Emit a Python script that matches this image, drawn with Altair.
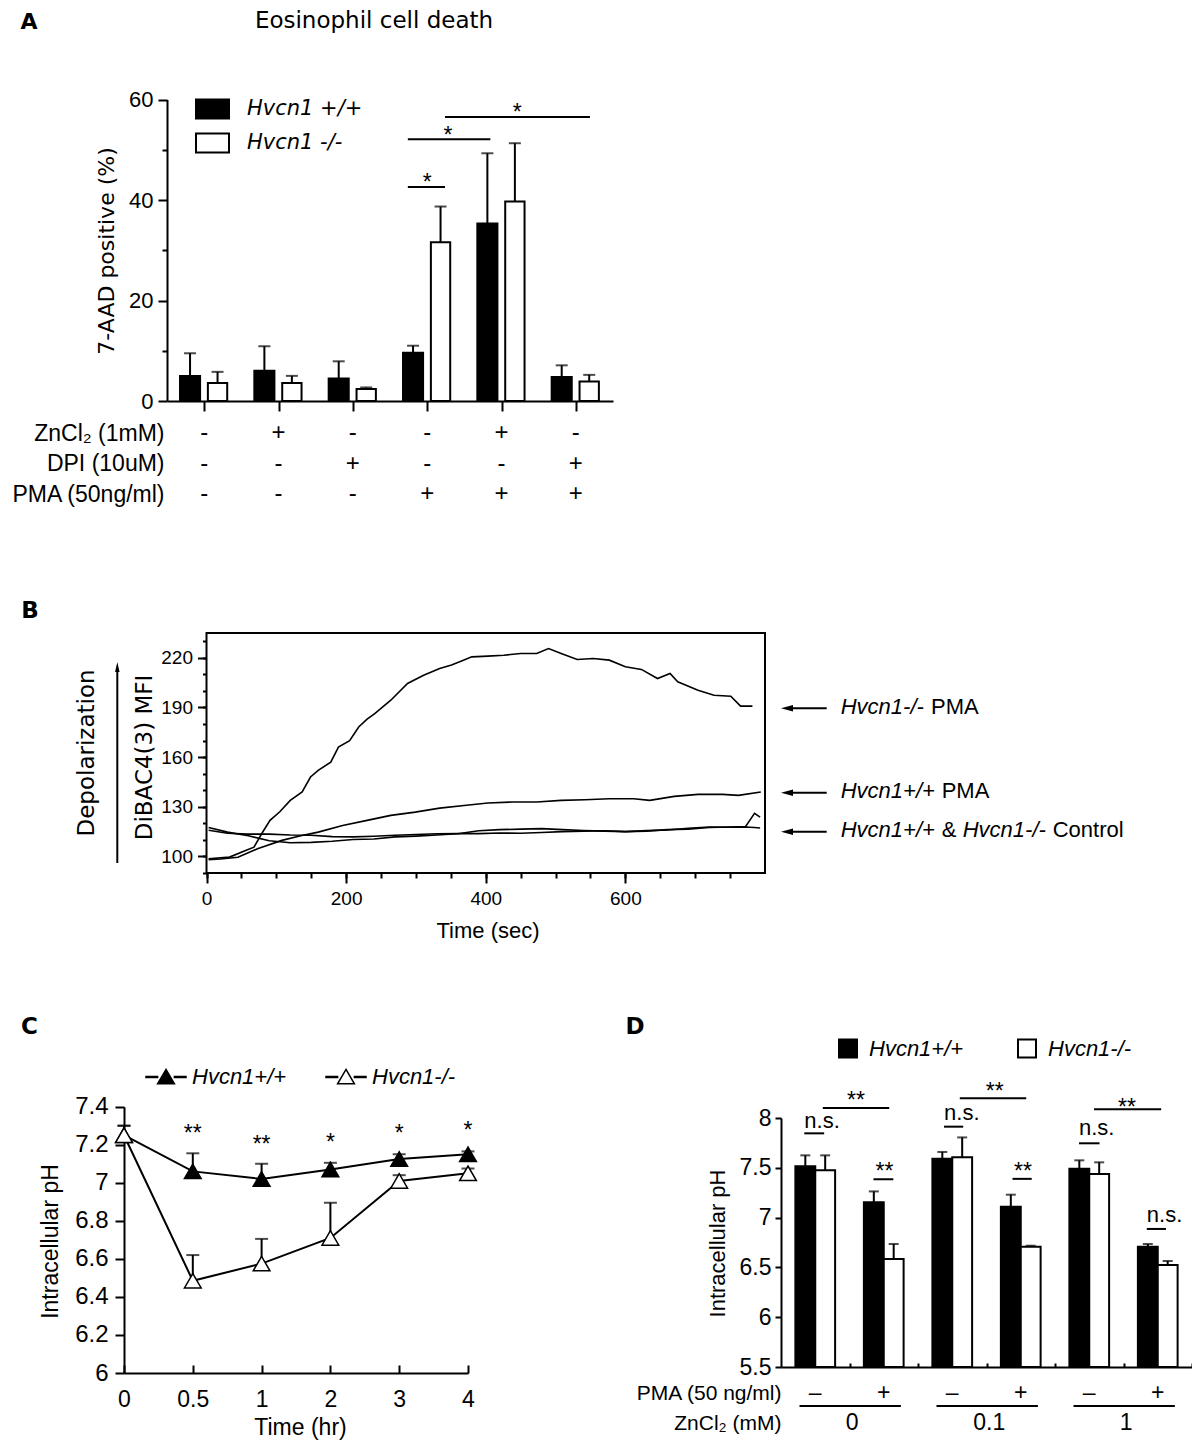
import altair as alt
import pandas as pd

# ====================== DATA ======================
# ---- Panel A : Eosinophil cell death ----
A_idx = [0, 1, 2, 3, 4, 5]
A_rows = ["ZnCl₂ (1mM)", "DPI (10uM)", "PMA (50ng/ml)"]
A_zncl2 = ["-", "+", "-", "-", "+", "-"]
A_dpi = ["-", "-", "+", "-", "-", "+"]
A_pma = ["-", "-", "-", "+", "+", "+"]
A_geno = ["Hvcn1 +/+", "Hvcn1 -/-"]
A_wt_mean = [5.0, 6.0, 4.5, 9.6, 35.3, 4.8]
A_wt_sem = [4.5, 4.9, 3.4, 1.4, 14.0, 2.3]
A_ko_mean = [3.6, 3.6, 2.4, 31.6, 39.7, 3.9]
A_ko_sem = [2.2, 1.4, 0.3, 7.1, 11.6, 1.3]
A_sig_from = [3.24, 3.24, 3.74]
A_sig_to = [3.74, 4.35, 5.69]
A_sig_y = [42.6, 52.1, 56.5]
A_star_x = [3.50, 3.78, 4.71]
A_star_y = [44.6, 53.9, 58.5]
A_yticks = [0, 20, 40, 60]
A_yminor = [10, 30, 50]

# ---- Panel B : DiBAC4(3) traces ----
B_ko_pma_t = [3, 33, 56, 68, 79, 91, 105, 120, 137, 149, 160, 178, 189, 205, 218, 230, 241, 264, 288, 311,
              334, 351, 368, 380, 403, 426, 450, 473, 490, 508, 531, 554, 577, 600, 623, 646, 664, 675, 704, 727,
              751, 765, 782]
B_ko_pma_v = [98.6, 99.6, 103.6, 105.6, 113.7, 121.8, 127.0, 133.9, 139.0, 148.0, 152.0, 157.0, 166.1, 170.0,
              178.2, 183.0, 186.3, 194.4, 204.5, 209.5, 213.6, 215.6, 218.5, 220.6, 221.0, 221.6, 222.6, 222.6,
              225.6, 222.6, 219.0, 219.6, 218.6, 214.6, 213.0, 207.5, 210.5, 205.5, 200.4, 197.4, 196.8, 190.8,
              190.8]
B_wt_pma_t = [3, 20, 45, 73, 108, 135, 160, 195, 230, 264, 299, 334, 369, 403, 438, 473, 508, 542, 577, 612,
              635, 670, 704, 739, 762, 794]
B_wt_pma_v = [98.0, 98.5, 99.5, 104.6, 109.7, 112.5, 114.7, 118.7, 121.8, 124.8, 126.8, 129.2, 130.8, 132.3,
              132.9, 132.9, 133.9, 134.3, 134.9, 134.9, 133.9, 136.3, 137.5, 137.5, 136.9, 138.9]
B_ctl_t = [3, 30, 60, 90, 120, 150, 180, 210, 240, 270, 300, 330, 360, 390, 420, 450, 480, 510, 540, 570,
           600, 630, 660, 690, 720, 750, 772, 785, 793]
B_ctl1_v = [117.5, 114.7, 112.5, 109.5, 108.3, 108.5, 109.2, 110.2, 110.5, 111.8, 112.3, 113.0, 113.7, 115.5,
            116.2, 116.5, 116.8, 116.2, 115.7, 115.3, 115.0, 115.3, 116.2, 116.5, 117.5, 117.8, 118.0, 126.0,
            123.8]
B_ctl2_v = [115.8, 114.0, 113.5, 113.5, 113.0, 112.8, 112.0, 111.8, 112.2, 112.8, 113.3, 113.7, 113.8, 113.8,
            114.2, 114.0, 114.5, 115.0, 115.2, 115.5, 115.0, 115.6, 116.0, 117.0, 117.8, 117.6, 117.8, 117.5,
            117.2]
B_xticks = [0, 200, 400, 600]
B_xminor = list(range(0, 800, 50))
B_yticks = [100, 130, 160, 190, 220]
B_yminor = list(range(90, 240, 10))

# ---- Panel C : intracellular pH over time ----
C_time = ["0", "0.5", "1", "2", "3", "4"]
C_geno = ["Hvcn1+/+", "Hvcn1-/-"]
C_wt_mean = [7.25, 7.06, 7.02, 7.07, 7.125, 7.15]
C_wt_sem = [0.05, 0.095, 0.08, 0.035, 0.025, 0.015]
C_ko_mean = [7.25, 6.485, 6.575, 6.71, 7.01, 7.05]
C_ko_sem = [0.05, 0.135, 0.13, 0.185, 0.03, 0.025]
C_star_time = ["0.5", "1", "2", "3", "4"]
C_star_txt = ["**", "**", "*", "*", "*"]
C_star_y = [7.286, 7.229, 7.242, 7.286, 7.304]
C_yticks = [6, 6.2, 6.4, 6.6, 6.8, 7, 7.2, 7.4]

# ---- Panel D : intracellular pH with ZnCl2 ----
D_idx = [0, 1, 2, 3, 4, 5]
D_rows = ["PMA (50 ng/ml)", "ZnCl₂ (mM)"]
D_pma = ["–", "+", "–", "+", "–", "+"]
D_zn = ["0", "0.1", "1"]
D_geno = ["Hvcn1+/+", "Hvcn1-/-"]
D_wt_mean = [7.515, 7.153, 7.592, 7.11, 7.49, 6.708]
D_wt_sem = [0.11, 0.11, 0.067, 0.12, 0.085, 0.027]
D_ko_mean = [7.475, 6.584, 7.605, 6.708, 7.438, 6.524]
D_ko_sem = [0.15, 0.151, 0.20, 0.01, 0.117, 0.04]
D_sig_from = [0.34, 0.61, 1.35, 2.38, 2.61, 3.38, 4.35, 4.57, 5.34]
D_sig_to = [0.63, 1.58, 1.64, 2.66, 3.58, 3.66, 4.65, 5.55, 5.62]
D_sig_y = [7.846, 8.10, 7.385, 7.913, 8.198, 7.389, 7.746, 8.087, 6.886]
D_star_x = [1.095, 1.51, 3.12, 3.533, 5.05]
D_star_y = [8.231, 7.521, 8.321, 7.521, 8.164]
D_ns_x = [0.34, 2.38, 4.35, 5.34]
D_ns_y = [7.90, 7.98, 7.829, 6.959]
D_yticks = [5.5, 6, 6.5, 7, 7.5, 8]

# ====================== LAYOUT HELPERS ======================
OFF = 8
W, H = 1184, 1437


def px(v):
    return v - OFF


SANS = "Liberation Sans"
DJ = "DejaVu Sans"
ONE = pd.DataFrame({"k": [0]})


def tx(s, x, y, size, font=SANS, align="center", baseline="middle", style="normal", weight="normal", angle=0):
    props = dict(text=s, font=font, fontSize=size, align=align, baseline=baseline,
                 fontStyle=style, fontWeight=weight, color="black")
    if angle:
        props["angle"] = angle
    return alt.Chart(ONE).mark_text(**props).encode(x=alt.value(px(x)), y=alt.value(px(y)))


def head(path, x, y, size):
    return alt.Chart(ONE).mark_point(shape=path, size=size, filled=True, color="black", opacity=1).encode(
        x=alt.value(px(x)), y=alt.value(px(y)))


def hrule(x1, x2, y, w=2):
    return alt.Chart(ONE).mark_rule(color="black", strokeWidth=w).encode(
        x=alt.value(px(x1)), x2=alt.value(px(x2)), y=alt.value(px(y)))


def vrule(x, y1, y2, w=2):
    return alt.Chart(ONE).mark_rule(color="black", strokeWidth=w).encode(
        x=alt.value(px(x)), y=alt.value(px(y1)), y2=alt.value(px(y2)))


# ====================== PANEL A ======================
dfA = pd.DataFrame({"g": A_idx * 2, "k": [0] * 6 + [1] * 6,
                    "geno": [A_geno[0]] * 6 + [A_geno[1]] * 6,
                    "mean": A_wt_mean + A_ko_mean, "sem": A_wt_sem + A_ko_sem})
xA = alt.Scale(domain=[0, 6], range=[px(167), px(613)], nice=False, zero=False)
yA = alt.Scale(domain=[0, 60], range=[px(401), px(99.5)], nice=False, zero=False)
fA = alt.Scale(domain=A_geno, range=["black", "white"])

RECT = "M-1,-0.58L1,-0.58L1,0.58L-1,0.58Z"
legA = alt.Legend(title=None, orient="none", legendX=px(195), legendY=px(91.5), direction="vertical",
                  symbolType=RECT, symbolSize=1089, symbolStrokeColor="black", symbolStrokeWidth=2,
                  labelFont=DJ, labelFontSize=21, labelFontStyle="italic", labelOffset=17,
                  rowPadding=2, padding=0, labelColor="black")

axA_x = alt.Axis(orient="bottom", offset=px(401) - H, values=[0.5, 1.5, 2.5, 3.5, 4.5, 5.5],
                 labels=False, tickSize=10, title=None)
axA_y = alt.Axis(orient="left", offset=-px(167), values=A_yticks, tickSize=9, labelFont=SANS,
                 labelFontSize=22, labelPadding=5, title="7-AAD positive (%)", titleFont=DJ,
                 titleFontSize=22, titleX=106 - 167, titleY=px(250.5), titleAngle=270,
                 titleAlign="center", titleBaseline="middle")
axA_ym = alt.Axis(orient="left", offset=-px(167), values=A_yminor, tickSize=5, labels=False,
                  domain=False, title=None)

baseA = alt.Chart(dfA).transform_calculate(
    x0="datum.g + 0.175 + 0.375 * datum.k",
    x1="datum.g + 0.445 + 0.365 * datum.k",
    xc="datum.g + 0.31 + 0.37 * datum.k",
    top="datum.mean + datum.sem")
barsA = baseA.mark_bar(stroke="black", strokeWidth=2).encode(
    x=alt.X("x0:Q", scale=xA, axis=axA_x), x2="x1:Q",
    y=alt.Y("mean:Q", scale=yA, axis=axA_y), y2=alt.Y2Datum(0),
    fill=alt.Fill("geno:N", scale=fA, legend=legA))
errA = baseA.mark_rule(color="black", strokeWidth=2).encode(
    x=alt.X("xc:Q", scale=xA, axis=None), y=alt.Y("mean:Q", scale=yA, axis=None), y2="top:Q")
capA = baseA.mark_tick(orient="horizontal", size=12, thickness=2, color="black").encode(
    x=alt.X("xc:Q", scale=xA, axis=None), y=alt.Y("top:Q", scale=yA, axis=axA_ym))
dfAs = pd.DataFrame({"x1": A_sig_from, "x2": A_sig_to, "y": A_sig_y})
dfAst = pd.DataFrame({"x": A_star_x, "y": A_star_y})
sigA = alt.Chart(dfAs).mark_rule(color="black", strokeWidth=2).encode(
    x=alt.X("x1:Q", scale=xA, axis=None), x2="x2:Q", y=alt.Y("y:Q", scale=yA, axis=None))
starA = alt.Chart(dfAst).mark_text(text="*", font=SANS, fontSize=23, dy=6, color="black").encode(
    x=alt.X("x:Q", scale=xA, axis=None), y=alt.Y("y:Q", scale=yA, axis=None))
panelA = alt.layer(barsA, errA, capA, sigA, starA).resolve_axis(x="independent", y="independent")

# table under panel A
dfAt = pd.DataFrame({"g": A_idx * 3,
                     "row": [A_rows[0]] * 6 + [A_rows[1]] * 6 + [A_rows[2]] * 6,
                     "sign": A_zncl2 + A_dpi + A_pma})
xAt = alt.Scale(domain=[0, 6], range=[px(167), px(613)], nice=False, zero=False)
yAt = alt.Scale(type="point", domain=A_rows, range=[px(433), px(494)], padding=0)
tableA = alt.Chart(dfAt).transform_calculate(xc="datum.g + 0.5").mark_text(
    font=SANS, fontSize=24, color="black").encode(
    x=alt.X("xc:Q", scale=xAt, axis=None),
    y=alt.Y("row:N", scale=yAt, axis=alt.Axis(orient="left", offset=-px(164), domain=False, ticks=False,
                                                tickSize=0, labelPadding=0, labelFont=SANS, labelFontSize=23,
                                                title=None)),
    text="sign:N")

# ====================== PANEL B ======================
dfB = pd.DataFrame({
    "t": B_ko_pma_t + B_wt_pma_t + B_ctl_t + B_ctl_t,
    "v": B_ko_pma_v + B_wt_pma_v + B_ctl1_v + B_ctl2_v,
    "s": ["ko_pma"] * len(B_ko_pma_t) + ["wt_pma"] * len(B_wt_pma_t)
         + ["ctl1"] * len(B_ctl_t) + ["ctl2"] * len(B_ctl_t)})
xB = alt.Scale(domain=[0, 800], range=[px(206.5), px(765)], nice=False, zero=False)
yB = alt.Scale(domain=[90, 235], range=[px(873), px(633)], nice=False, zero=False)
axB_x = alt.Axis(orient="bottom", offset=px(873) - H, values=B_xticks, tickSize=10, labelFont=SANS,
                 labelFontSize=19, labelPadding=6, domain=False, title="Time (sec)", titleFont=SANS,
                 titleFontSize=22, titleX=px(487.5), titleY=57, titleAlign="center", titleBaseline="middle")
axB_xm = alt.Axis(orient="bottom", offset=px(873) - H, values=B_xminor, tickSize=5, labels=False,
                  domain=False, title=None)
axB_y = alt.Axis(orient="left", offset=-px(206.5), values=B_yticks, tickSize=9, labelFont=SANS,
                 labelFontSize=19, labelPadding=5, domain=False, title="DiBAC4(3) MFI", titleFont=DJ,
                 titleFontSize=23, titleX=144 - 206.5, titleY=px(757), titleAngle=270,
                 titleAlign="center", titleBaseline="middle")
axB_ym = alt.Axis(orient="left", offset=-px(206.5), values=B_yminor, tickSize=4, labels=False,
                  domain=False, title=None)
linesB = alt.Chart(dfB).mark_line(color="black", strokeWidth=1.6).encode(
    x=alt.X("t:Q", scale=xB, axis=axB_x), y=alt.Y("v:Q", scale=yB, axis=axB_y), detail="s:N")
frameB = alt.Chart(ONE).mark_rect(fill="transparent", stroke="black", strokeWidth=2).encode(
    x=alt.XDatum(0, type="quantitative", scale=xB, axis=axB_xm), x2=alt.X2Datum(800),
    y=alt.YDatum(90, type="quantitative", scale=yB, axis=axB_ym), y2=alt.Y2Datum(235))
panelB = alt.layer(linesB, frameB).resolve_axis(x="independent", y="independent")

ARROW_L = "M-1,0L1,-0.55L1,0.55Z"
ARROW_U = "M0,-1L0.45,1L-0.45,1Z"
annB = [
    tx("Depolarization", 86.5, 753, 23, font=DJ, angle=270),
    vrule(117.3, 863, 670),
    head(ARROW_U, 117.3, 667, 100),
]
for yy in [708.3, 792.7, 831.7]:
    annB.append(hrule(791, 826.7, yy))
    annB.append(head(ARROW_L, 787, yy, 144))
annB += [
    tx("Hvcn1-/-", 840.7, 707, 22, align="left", style="italic"),
    tx("PMA", 931, 707, 22, align="left"),
    tx("Hvcn1+/+", 840.7, 791, 22, align="left", style="italic"),
    tx("PMA", 941.7, 791, 22, align="left"),
    tx("Hvcn1+/+", 840.7, 830, 22, align="left", style="italic"),
    tx("&", 941.7, 830, 22, align="left"),
    tx("Hvcn1-/-", 962.7, 830, 22, align="left", style="italic"),
    tx("Control", 1052.7, 830, 22, align="left"),
]

# ====================== PANEL C ======================
dfC = pd.DataFrame({"time": C_time * 2, "geno": [C_geno[0]] * 6 + [C_geno[1]] * 6,
                    "mean": C_wt_mean + C_ko_mean, "sem": C_wt_sem + C_ko_sem})
xC = alt.Scale(type="point", domain=C_time, range=[px(124), px(468)], padding=0)
yC = alt.Scale(domain=[6, 7.4], range=[px(1373), px(1106.7)], nice=False, zero=False)
fC = alt.Scale(domain=C_geno, range=["black", "white"])
C_SYM = ("M-1,-0.02L-0.42,-0.02L-0.42,0.02L-1,0.02Z M0.42,-0.02L1,-0.02L1,0.02L0.42,0.02Z "
         "M0,-0.38L0.42,0.34L-0.42,0.34Z")
legC = alt.Legend(title=None, orient="none", legendX=px(145), legendY=px(1056), direction="horizontal",
                  symbolType=C_SYM, symbolSize=1600, symbolStrokeColor="black", symbolStrokeWidth=1.5,
                  labelFont=SANS, labelFontSize=22, labelFontStyle="italic", labelOffset=5,
                  columnPadding=36, padding=0, labelColor="black")
axC_x = alt.Axis(orient="bottom", offset=px(1373) - H, ticks=False, tickSize=0, labelFont=SANS,
                 labelFontSize=23, labelPadding=15, labelAngle=0, title="Time (hr)", titleFont=SANS,
                 titleFontSize=23, titleX=px(300), titleY=54, titleAlign="center", titleBaseline="middle")
axC_xt = alt.Axis(orient="top", offset=-px(1373), tickSize=8, labels=False, domain=False, title=None)
axC_y = alt.Axis(orient="left", offset=-px(124), values=C_yticks, format="~g", tickSize=9, labelFont=SANS,
                 labelFontSize=24, labelPadding=7, title="Intracellular pH", titleFont=SANS,
                 titleFontSize=23, titleX=50 - 124, titleY=px(1241), titleAngle=270,
                 titleAlign="center", titleBaseline="middle")
baseC = alt.Chart(dfC).transform_calculate(top="datum.mean + datum.sem")
lineC = baseC.mark_line(color="black", strokeWidth=2).encode(
    x=alt.X("time:O", scale=xC, axis=axC_x), y=alt.Y("mean:Q", scale=yC, axis=axC_y), detail="geno:N")
errC = baseC.mark_rule(color="black", strokeWidth=2).encode(
    x=alt.X("time:O", scale=xC, axis=axC_xt), y=alt.Y("mean:Q", scale=yC, axis=None), y2="top:Q")
capC = baseC.mark_tick(orient="horizontal", size=13, thickness=2, color="black").encode(
    x=alt.X("time:O", scale=xC, axis=None), y=alt.Y("top:Q", scale=yC, axis=None))
ptC = baseC.mark_point(shape="triangle-up", size=280, filled=True, stroke="black", strokeWidth=1.5,
                       opacity=1).encode(
    x=alt.X("time:O", scale=xC, axis=None), y=alt.Y("mean:Q", scale=yC, axis=None),
    fill=alt.Fill("geno:N", scale=fC, legend=legC))
dfCs = pd.DataFrame({"time": C_star_time, "txt": C_star_txt, "y": C_star_y})
starC = alt.Chart(dfCs).mark_text(font=SANS, fontSize=23, dy=6, color="black").encode(
    x=alt.X("time:O", scale=xC, axis=None), y=alt.Y("y:Q", scale=yC, axis=None), text="txt:N")
panelC = alt.layer(lineC, errC, capC, ptC, starC).resolve_axis(x="independent", y="independent")

# ====================== PANEL D ======================
dfD = pd.DataFrame({"g": D_idx * 2, "k": [0] * 6 + [1] * 6,
                    "geno": [D_geno[0]] * 6 + [D_geno[1]] * 6,
                    "mean": D_wt_mean + D_ko_mean, "sem": D_wt_sem + D_ko_sem})
xD = alt.Scale(domain=[0, 6], range=[px(781), px(1192)], nice=False, zero=False)
yD = alt.Scale(domain=[5.5, 8], range=[px(1367), px(1118)], nice=False, zero=False)
fD = alt.Scale(domain=D_geno, range=["black", "white"])
legD = alt.Legend(title=None, orient="none", legendX=px(837), legendY=px(1037.5), direction="horizontal",
                  symbolType="square", symbolSize=324, symbolStrokeColor="black", symbolStrokeWidth=2,
                  labelFont=SANS, labelFontSize=22, labelFontStyle="italic", labelOffset=10,
                  columnPadding=50, padding=0, labelColor="black")
axD_x = alt.Axis(orient="bottom", offset=px(1367) - H, ticks=False, tickSize=0, labels=False, title=None)
axD_xt = alt.Axis(orient="top", offset=-px(1367), values=[1, 2, 3, 4, 5, 6], tickSize=4, labels=False,
                  domain=False, title=None)
axD_y = alt.Axis(orient="left", offset=-px(781), values=D_yticks, format="~g", tickSize=6, labelFont=SANS,
                 labelFontSize=23, labelPadding=4, title="Intracellular pH", titleFont=SANS,
                 titleFontSize=22, titleX=717 - 781, titleY=px(1243), titleAngle=270,
                 titleAlign="center", titleBaseline="middle")
baseD = alt.Chart(dfD).transform_calculate(
    x0="datum.g + 0.21 + 0.29 * datum.k",
    x1="datum.g + 0.50 + 0.29 * datum.k",
    xc="datum.g + 0.355 + 0.29 * datum.k",
    top="datum.mean + datum.sem")
barsD = baseD.mark_bar(stroke="black", strokeWidth=2).encode(
    x=alt.X("x0:Q", scale=xD, axis=axD_x), x2="x1:Q",
    y=alt.Y("mean:Q", scale=yD, axis=axD_y), y2=alt.Y2Datum(5.5),
    fill=alt.Fill("geno:N", scale=fD, legend=legD))
errD = baseD.mark_rule(color="black", strokeWidth=2).encode(
    x=alt.X("xc:Q", scale=xD, axis=None), y=alt.Y("mean:Q", scale=yD, axis=None), y2="top:Q")
capD = baseD.mark_tick(orient="horizontal", size=10, thickness=2, color="black").encode(
    x=alt.X("xc:Q", scale=xD, axis=axD_xt), y=alt.Y("top:Q", scale=yD, axis=None))
dfDs = pd.DataFrame({"x1": D_sig_from, "x2": D_sig_to, "y": D_sig_y})
dfDst = pd.DataFrame({"x": D_star_x, "y": D_star_y})
dfDns = pd.DataFrame({"x": D_ns_x, "y": D_ns_y})
sigD = alt.Chart(dfDs).mark_rule(color="black", strokeWidth=2).encode(
    x=alt.X("x1:Q", scale=xD, axis=None), x2="x2:Q", y=alt.Y("y:Q", scale=yD, axis=None))
starD = alt.Chart(dfDst).mark_text(text="**", font=SANS, fontSize=23, dy=6, color="black").encode(
    x=alt.X("x:Q", scale=xD, axis=None), y=alt.Y("y:Q", scale=yD, axis=None))
nsD = alt.Chart(dfDns).mark_text(text="n.s.", font=SANS, fontSize=22, align="left", baseline="alphabetic",
                                 color="black").encode(
    x=alt.X("x:Q", scale=xD, axis=None), y=alt.Y("y:Q", scale=yD, axis=None))
panelD = alt.layer(barsD, errD, capD, sigD, starD, nsD).resolve_axis(x="independent", y="independent")

# table under panel D
xDt = alt.Scale(domain=[0, 6], range=[px(781), px(1192)], nice=False, zero=False)
yDt = alt.Scale(type="point", domain=D_rows, range=[px(1393), px(1423)], padding=0)
dfDt1 = pd.DataFrame({"g": D_idx, "row": [D_rows[0]] * 6, "txt": D_pma})
dfDt2 = pd.DataFrame({"grp": [0, 1, 2], "row": [D_rows[1]] * 3, "txt": D_zn})
signD = alt.Chart(dfDt1).transform_calculate(xc="datum.g + 0.5").mark_text(
    font=SANS, fontSize=23, color="black").encode(
    x=alt.X("xc:Q", scale=xDt, axis=None),
    y=alt.Y("row:N", scale=yDt, axis=alt.Axis(orient="left", offset=-px(781), domain=False, ticks=False,
                                                tickSize=0, labelPadding=0, labelFont=SANS, labelFontSize=21,
                                                title=None)),
    text="txt:N")
znD = alt.Chart(dfDt2).transform_calculate(xc="2 * datum.grp + 1.04").mark_text(
    font=SANS, fontSize=23, color="black").encode(
    x=alt.X("xc:Q", scale=xDt, axis=None), y=alt.Y("row:N", scale=yDt, axis=None), text="txt:N")
ulD = alt.Chart(dfDt2).transform_calculate(a="2 * datum.grp + 0.27", b="2 * datum.grp + 1.75").mark_rule(
    color="black", strokeWidth=2).encode(
    x=alt.X("a:Q", scale=xDt, axis=None), x2="b:Q", y=alt.value(px(1406)))
tableD = alt.layer(signD, znD, ulD).resolve_axis(x="independent", y="independent")

# ====================== TEXT ANNOTATIONS ======================
ann = [
    tx("A", 29, 22, 22, font=DJ, weight="bold"),
    tx("Eosinophil cell death", 374, 21, 23, font=DJ),
    tx("B", 30, 611, 23, font=DJ, weight="bold"),
    tx("C", 29.5, 1027, 23, font=DJ, weight="bold"),
    tx("D", 635, 1027, 23, font=DJ, weight="bold"),
]

chart = alt.layer(panelA, tableA, panelB, panelC, panelD, tableD, *annB, *ann).resolve_scale(
    x="independent", y="independent", fill="independent"
).properties(
    width=W, height=H, padding=0, autosize=alt.AutoSizeParams(type="none")
).configure_view(stroke="transparent").configure_axis(
    domainColor="black", tickColor="black", labelColor="black", titleColor="black",
    domainWidth=2, tickWidth=2, grid=False, titleFontWeight="normal", labelFlush=False,
    labelOverlap=False
).configure_legend(labelColor="black")

chart.save("out.html", embed_options={"renderer": "svg", "actions": False})
